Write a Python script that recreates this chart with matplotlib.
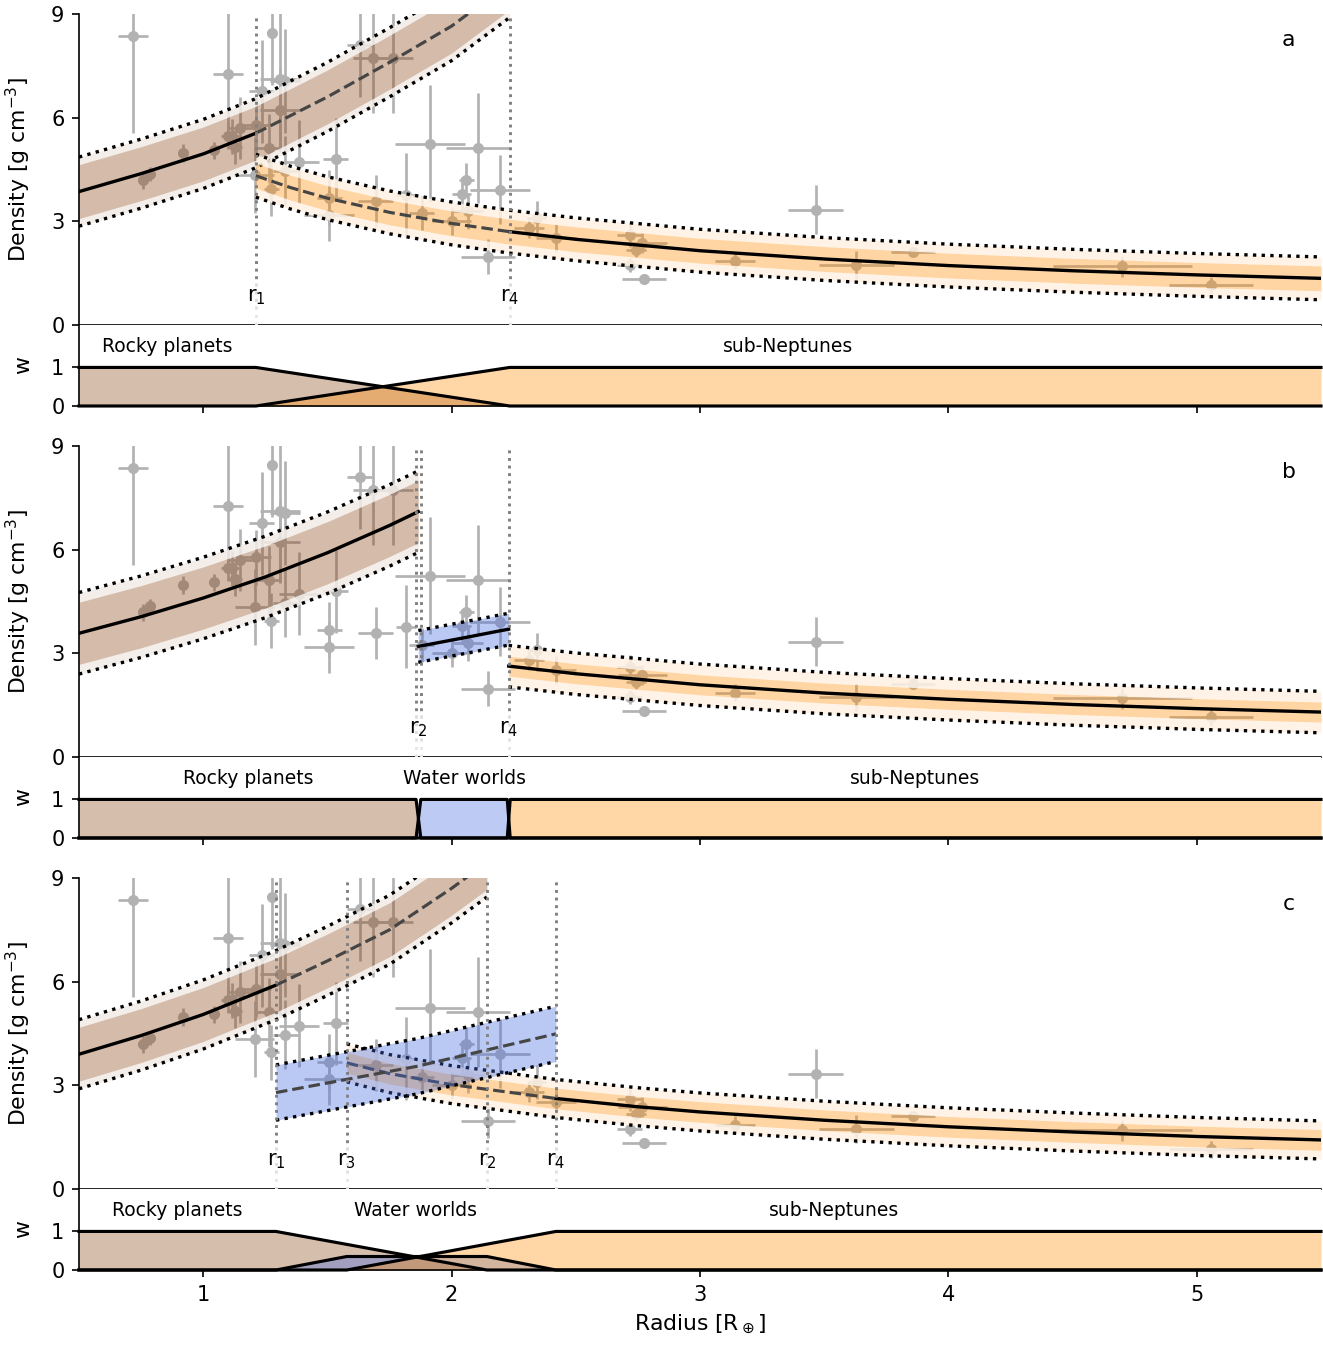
import numpy as np
import matplotlib.pyplot as plt

plt.rcParams['font.size'] = 10

# measured planets: radius [R_earth], bulk density [g cm^-3] and 1-sigma errors
radius = [0.717, 0.757, 0.786, 0.917, 1.042, 1.100, 1.100, 1.114, 1.128, 1.148,
          1.211, 1.235, 1.278, 1.310, 1.330, 1.310, 1.265, 1.207, 1.330, 1.385,
          1.275, 1.533, 1.507, 1.507, 1.695, 1.816, 1.630, 1.685, 1.765, 1.912,
          2.107, 2.060, 2.040, 2.194, 2.147, 1.880, 2.000, 2.067, 2.310, 2.342,
          2.420, 2.717, 2.768, 2.744, 2.717, 2.774, 3.140, 3.465, 3.630, 3.857,
          4.700, 5.058]
radius_err = [0.06, 0.02, 0.02, 0.02, 0.02, 0.06, 0.03, 0.03, 0.03, 0.05,
              0.06, 0.05, 0.02, 0.08, 0.06, 0.08, 0.05, 0.08, 0.05, 0.08,
              0.03, 0.05, 0.05, 0.10, 0.07, 0.04, 0.05, 0.08, 0.08, 0.14,
              0.13, 0.03, 0.04, 0.12, 0.11, 0.05, 0.08, 0.06, 0.06, 0.04,
              0.08, 0.05, 0.10, 0.04, 0.05, 0.09, 0.08, 0.11, 0.15, 0.09,
              0.28, 0.17]
density = [8.36, 4.19, 4.36, 4.98, 5.05, 7.27, 5.48, 5.46, 5.15, 5.70,
           5.78, 6.76, 8.45, 7.12, 7.07, 6.23, 5.12, 4.33, 4.47, 4.72,
           3.95, 4.80, 3.68, 3.17, 3.60, 3.77, 8.11, 7.73, 7.73, 5.25,
           5.12, 4.19, 3.78, 3.92, 1.98, 3.24, 3.00, 3.29, 2.81, 3.10,
           2.52, 2.61, 2.37, 2.18, 1.74, 1.34, 1.86, 3.34, 1.74, 2.11,
           1.70, 1.15]
density_err = [2.8, 0.25, 0.20, 0.25, 0.25, 1.8, 0.4, 0.5, 0.5, 0.9,
               0.8, 1.5, 1.5, 2.0, 1.5, 1.2, 1.0, 1.1, 1.0, 1.2,
               0.8, 1.2, 0.8, 0.75, 0.75, 1.2, 1.5, 1.6, 1.6, 1.7,
               1.6, 0.5, 0.5, 1.0, 0.5, 0.5, 0.4, 0.5, 0.3, 0.5,
               0.4, 0.35, 0.3, 0.2, 0.2, 0.1, 0.25, 0.7, 0.4, 0.1,
               0.3, 0.25]

# (a) rocky planets + sub-Neptunes
a_rocky_r = [0.5, 0.75, 1.0, 1.212, 1.5, 1.75, 2.0, 2.234]
a_rocky_rho = [3.86, 4.38, 4.95, 5.55, 6.60, 7.60, 8.65, 9.90]
a_subnep_r = [1.212, 1.35, 1.5, 1.75, 2.0, 2.234, 2.5, 3.0, 3.5, 4.0, 4.5, 5.0, 5.5]
a_subnep_rho = [4.32, 3.98, 3.67, 3.26, 2.94, 2.70, 2.48, 2.15, 1.91, 1.72, 1.57, 1.45, 1.35]
a_bounds = [1.212, 2.234]
a_bound_labels = ['r$_1$', 'r$_4$']

# (b) rocky planets + water worlds + sub-Neptunes, sharp boundaries
b_rocky_r = [0.5, 0.75, 1.0, 1.25, 1.5, 1.75, 1.866]
b_rocky_rho = [3.58, 4.06, 4.60, 5.21, 5.91, 6.70, 7.10]
b_water_r = [1.866, 2.05, 2.23]
b_water_rho = [3.20, 3.45, 3.70]
b_subnep_r = [2.23, 2.5, 3.0, 3.5, 4.0, 4.5, 5.0, 5.5]
b_subnep_rho = [2.63, 2.41, 2.09, 1.85, 1.67, 1.52, 1.40, 1.30]
b_bounds = [1.857, 1.876, 2.23]
b_label_pos = [1.866, 2.228]
b_bound_labels = ['r$_2$', 'r$_4$']

# (c) rocky planets + water worlds + sub-Neptunes, overlapping
c_rocky_r = [0.5, 0.75, 1.0, 1.293, 1.5, 1.75, 2.0, 2.142]
c_rocky_rho = [3.90, 4.44, 5.05, 5.90, 6.60, 7.50, 8.70, 9.45]
c_water_r = [1.293, 1.86, 2.42]
c_water_rho = [2.79, 3.55, 4.49]
c_subnep_r = [1.578, 1.75, 2.0, 2.42, 2.75, 3.0, 3.5, 4.0, 4.5, 5.0, 5.5]
c_subnep_rho = [3.65, 3.34, 3.02, 2.62, 2.38, 2.23, 1.99, 1.80, 1.65, 1.52, 1.42]
c_bounds = [1.293, 1.578, 2.142, 2.42]
c_bound_labels = ['r$_1$', 'r$_3$', 'r$_2$', 'r$_4$']

# weights of each population
a_w_rocky = ([0.5, 1.212, 2.234, 5.5], [1, 1, 0, 0])
a_w_subnep = ([0.5, 1.212, 2.234, 5.5], [0, 0, 1, 1])
b_w_rocky = ([0.5, 1.857, 1.876, 5.5], [1, 1, 0, 0])
b_w_water = ([0.5, 1.857, 1.876, 2.224, 2.236, 5.5], [0, 0, 1, 1, 0, 0])
b_w_subnep = ([0.5, 2.224, 2.236, 5.5], [0, 0, 1, 1])
c_w_rocky = ([0.5, 1.293, 2.142, 5.5], [1, 1, 0, 0])
c_w_water = ([0.5, 1.293, 1.578, 2.142, 2.42, 5.5], [0, 0, 0.35, 0.35, 0, 0])
c_w_subnep = ([0.5, 1.578, 2.42, 5.5], [0, 0, 1, 1])

ROCKY, WATER, SUBNEP = 'saddlebrown', 'royalblue', 'darkorange'
RING = {ROCKY: (0.945, 0.92, 0.90), SUBNEP: (1.0, 0.95, 0.895)}


def draw_band(ax, r, rho, inner, outer, color, solid, z):
    r = np.asarray(r)
    rho = np.asarray(rho)
    if outer is not None:
        ax.fill_between(r, rho + inner, rho + outer, color=RING[color], alpha=0.85, lw=0, zorder=z)
        ax.fill_between(r, rho - outer, rho - inner, color=RING[color], alpha=0.85, lw=0, zorder=z)
        edge = outer
    else:
        edge = inner
    ax.fill_between(r, rho - inner, rho + inner, color=color, alpha=0.36, lw=0, zorder=z)
    for s in (1, -1):
        ax.plot(r, rho + s * edge, ls=(0, (1, 1.6)), color='k', lw=1.6, zorder=z + 0.5)
    if solid is None:
        ax.plot(r, rho, '--', color='0.27', lw=1.5, zorder=z + 0.6)
        return
    lo, hi = solid
    m = (r >= lo - 1e-9) & (r <= hi + 1e-9)
    ax.plot(r[m], rho[m], color='k', lw=1.6, zorder=z + 0.6)
    for part in (r <= lo + 1e-9, r >= hi - 1e-9):
        if part.sum() > 1:
            ax.plot(r[part], rho[part], '--', color='0.27', lw=1.5, zorder=z + 0.6)


def draw_bounds(ax, lines, label_pos, labels):
    for x in lines:
        ax.plot([x, x], [0.45, 9], ls=(0, (1, 1.6)), color='0.5', lw=1.4, zorder=6)
        ax.plot([x, x], [0, 0.45], ls=(0, (1, 1.6)), color='0.9', lw=1.4, zorder=6)
    for x, t in zip(label_pos, labels):
        ax.text(x, 0.8, t, ha='center', va='center', zorder=7,
                bbox=dict(boxstyle='square,pad=0.15', fc='white', ec='none', alpha=0.75))


def draw_weights(ax, curves, names):
    for (r, w), color in curves:
        ax.fill_between(r, 0, w, color=color, alpha=0.35, lw=0)
        ax.plot(r, w, color='k', lw=1.5, clip_on=False)
    for x, t in names:
        ax.text(x, 1.55, t, ha='center', va='center', fontsize=9)
    ax.set_ylim(0, 2.1)
    ax.set_yticks([0, 1])
    ax.set_ylabel('w', fontsize=10.5)
    ax.yaxis.set_label_coords(-0.037, 0.5)


fig = plt.figure(figsize=(8.82, 8.98), dpi=150)
left, width = 0.0597, 0.9388
dens_h, w_h = 0.23089, 0.06013
dens_bottoms = [0.75872, 0.43801, 0.11730]
w_bottoms = [0.69859, 0.37788, 0.05716]

axes = []
for k in range(3):
    ax = fig.add_axes([left, dens_bottoms[k], width, dens_h])
    wax = fig.add_axes([left, w_bottoms[k], width, w_h], sharex=ax)
    for a_ in (ax, wax):
        a_.spines['top'].set_visible(False)
        a_.spines['right'].set_visible(False)
    ax.errorbar(radius, density, xerr=radius_err, yerr=density_err, fmt='o', color='#b2b2b2',
                ms=4.3, elinewidth=1.3, capsize=0, zorder=1)
    ax.set_ylim(0, 9)
    ax.set_yticks([0, 3, 6, 9])
    ax.set_ylabel('Density [g cm$^{-3}$]', fontsize=10.5)
    ax.yaxis.set_label_coords(-0.037, 0.5)
    ax.tick_params(axis='x', labelbottom=False, length=2)
    ax.text(0.974, 0.916, 'abc'[k], transform=ax.transAxes, ha='center', va='center', fontsize=10.5)
    axes.append((ax, wax))

ax, wax = axes[0]
draw_band(ax, a_rocky_r, a_rocky_rho, 0.78, 1.0, ROCKY, (0.5, 1.212), 2)
draw_band(ax, a_subnep_r, a_subnep_rho, 0.36, 0.62, SUBNEP, (2.234, 5.5), 3)
draw_bounds(ax, a_bounds, a_bounds, a_bound_labels)
draw_weights(wax, [(a_w_rocky, ROCKY), (a_w_subnep, SUBNEP)],
             [(0.856, 'Rocky planets'), (3.356, 'sub-Neptunes')])

ax, wax = axes[1]
draw_band(ax, b_rocky_r, b_rocky_rho, 0.9, 1.18, ROCKY, (0.5, 1.866), 2)
draw_band(ax, b_water_r, b_water_rho, 0.46, None, WATER, (1.866, 2.23), 3)
draw_band(ax, b_subnep_r, b_subnep_rho, 0.29, 0.6, SUBNEP, (2.23, 5.5), 3)
draw_bounds(ax, b_bounds, b_label_pos, b_bound_labels)
draw_weights(wax, [(b_w_rocky, ROCKY), (b_w_water, WATER), (b_w_subnep, SUBNEP)],
             [(1.18, 'Rocky planets'), (2.05, 'Water worlds'), (3.865, 'sub-Neptunes')])

ax, wax = axes[2]
draw_band(ax, c_rocky_r, c_rocky_rho, 0.78, 1.0, ROCKY, (0.5, 1.293), 2)
draw_band(ax, c_subnep_r, c_subnep_rho, 0.3, 0.55, SUBNEP, (2.42, 5.5), 3)
draw_band(ax, c_water_r, c_water_rho, 0.8, None, WATER, None, 4)
draw_bounds(ax, c_bounds, c_bounds, c_bound_labels)
draw_weights(wax, [(c_w_rocky, ROCKY), (c_w_water, WATER), (c_w_subnep, SUBNEP)],
             [(0.895, 'Rocky planets'), (1.856, 'Water worlds'), (3.54, 'sub-Neptunes')])

for k, (ax, wax) in enumerate(axes):
    wax.set_xlim(0.5, 5.5)
    wax.set_xticks([1, 2, 3, 4, 5])
    if k < 2:
        wax.tick_params(axis='x', labelbottom=False)
axes[2][1].set_xlabel(r'Radius [R$_\oplus$]', fontsize=10.5)

fig.savefig('out.png', dpi=150)
